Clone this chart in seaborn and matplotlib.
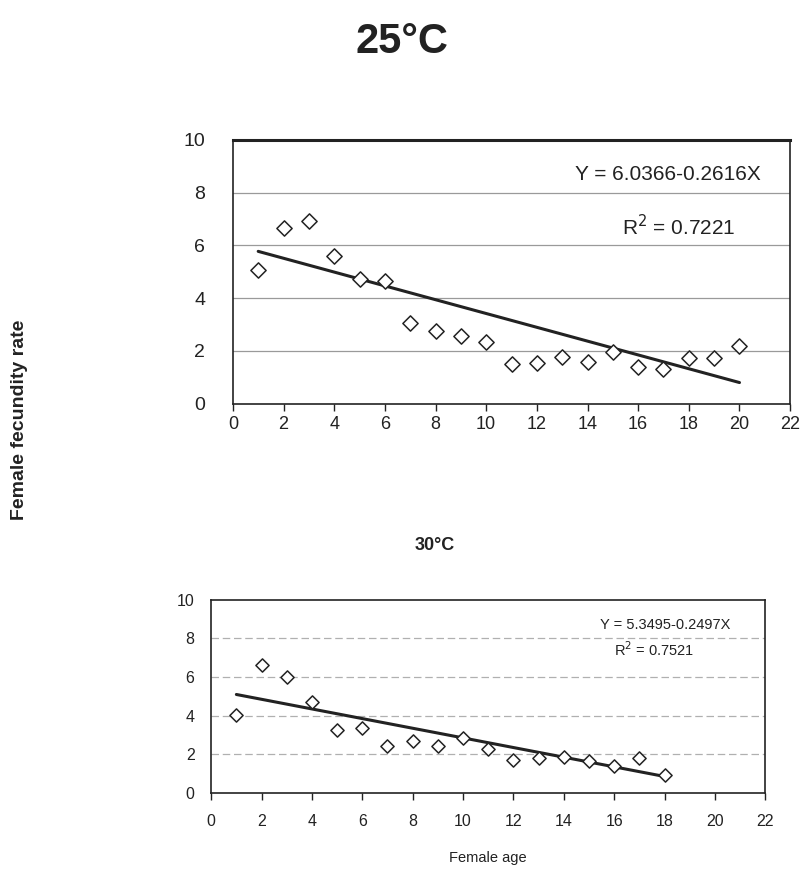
import numpy as np
import pandas as pd
import matplotlib
matplotlib.use("Agg")
import matplotlib.pyplot as plt
import seaborn as sns

# ---- data ----
age_25 = list(range(1, 21))
fec_25 = [5.08, 6.67, 6.93, 5.6, 4.72, 4.66, 3.07, 2.75, 2.55, 2.34,
          1.49, 1.54, 1.77, 1.58, 1.95, 1.4, 1.3, 1.75, 1.75, 2.2]
age_30 = list(range(1, 19))
fec_30 = [4.05, 6.6, 6.02, 4.69, 3.28, 3.37, 2.44, 2.7, 2.44, 2.83,
          2.27, 1.69, 1.83, 1.88, 1.66, 1.4, 1.83, 0.92]
intercepts = [6.0366, 5.3495]
slopes = [-0.2616, -0.2497]
r2 = [0.7221, 0.7521]
titles = ["25°C", "30°C"]
xticks = list(range(0, 23, 2))
yticks = list(range(0, 11, 2))

sns.set_theme(style="white")
plt.rcParams['font.family'] = ['Liberation Sans', 'DejaVu Sans']

fig = plt.figure(figsize=(8.03, 8.74), dpi=100)
ax1 = fig.add_axes([0.290, 0.538, 0.694, 0.302])
ax2 = fig.add_axes([0.263, 0.0927, 0.690, 0.221])

def draw(ax, ages, fec, b0, b1, r, tick_fs, eq_fs, eq_pos, r_pos, grid_ls,
         grid_c, msize, xpad, ypad):
    df = pd.DataFrame({"age": ages, "fec": fec})
    line = pd.DataFrame({"age": [ages[0], ages[-1]]})
    line["fit"] = b0 + b1 * line["age"]
    for y in [2, 4, 6, 8]:
        ax.axhline(y, color=grid_c, lw=0.9, ls=grid_ls, zorder=0)
    sns.lineplot(data=line, x="age", y="fit", ax=ax, color="#222222", lw=2.2, zorder=2)
    sns.scatterplot(data=df, x="age", y="fec", ax=ax, marker="D", s=msize,
                    facecolor="white", edgecolor="#222222", linewidth=1.1, zorder=3)
    ax.set_xlim(0, 22)
    ax.set_ylim(0, 10)
    ax.set_xticks(xticks)
    ax.set_yticks(yticks)
    ax.tick_params(axis="both", labelsize=tick_fs, colors="#222222")
    ax.tick_params(axis="x", bottom=True, length=5, width=1, direction="out", pad=xpad)
    ax.tick_params(axis="y", left=False, pad=ypad)
    ax.set_xlabel("")
    ax.set_ylabel("")
    for s in ax.spines.values():
        s.set_color("#222222")
        s.set_linewidth(1.2)
    ax.text(*eq_pos, f"Y = {b0:.4f}{b1:.4f}X", transform=ax.transAxes,
            fontsize=eq_fs, ha="center", va="center", color="#222222")
    ax.text(*r_pos, f"R$^2$ = {r:.4f}", transform=ax.transAxes,
            fontsize=eq_fs, ha="center", va="center", color="#222222")

draw(ax1, age_25, fec_25, intercepts[0], slopes[0], r2[0], 13, 15,
     (0.78, 0.87), (0.80, 0.67), "-", "#9a9a9a", 60, 4, 14)
ax1.spines["top"].set_linewidth(2.2)
ax1.tick_params(axis="y", labelsize=14)
draw(ax2, age_30, fec_30, intercepts[1], slopes[1], r2[1], 11.5, 10.5,
     (0.82, 0.87), (0.80, 0.74), (0, (6, 3)), "#b0b0b0", 45, 10, 6)

fig.text(0.50, 0.952, titles[0], fontsize=30, ha="center", va="center",
         family=['Liberation Sans Narrow', 'Liberation Sans'], weight="bold",
         color="#222222")
fig.text(0.542, 0.376, titles[1], fontsize=13, ha="center", va="center",
         weight="bold", color="#222222")
fig.text(0.608, 0.018, "Female age", fontsize=10.5, ha="center", va="center",
         color="#222222")
fig.text(0.024, 0.52, "Female fecundity rate", fontsize=14, ha="center", va="center",
         rotation=90, weight="bold", color="#222222")

fig.savefig("out.png", dpi=100)
